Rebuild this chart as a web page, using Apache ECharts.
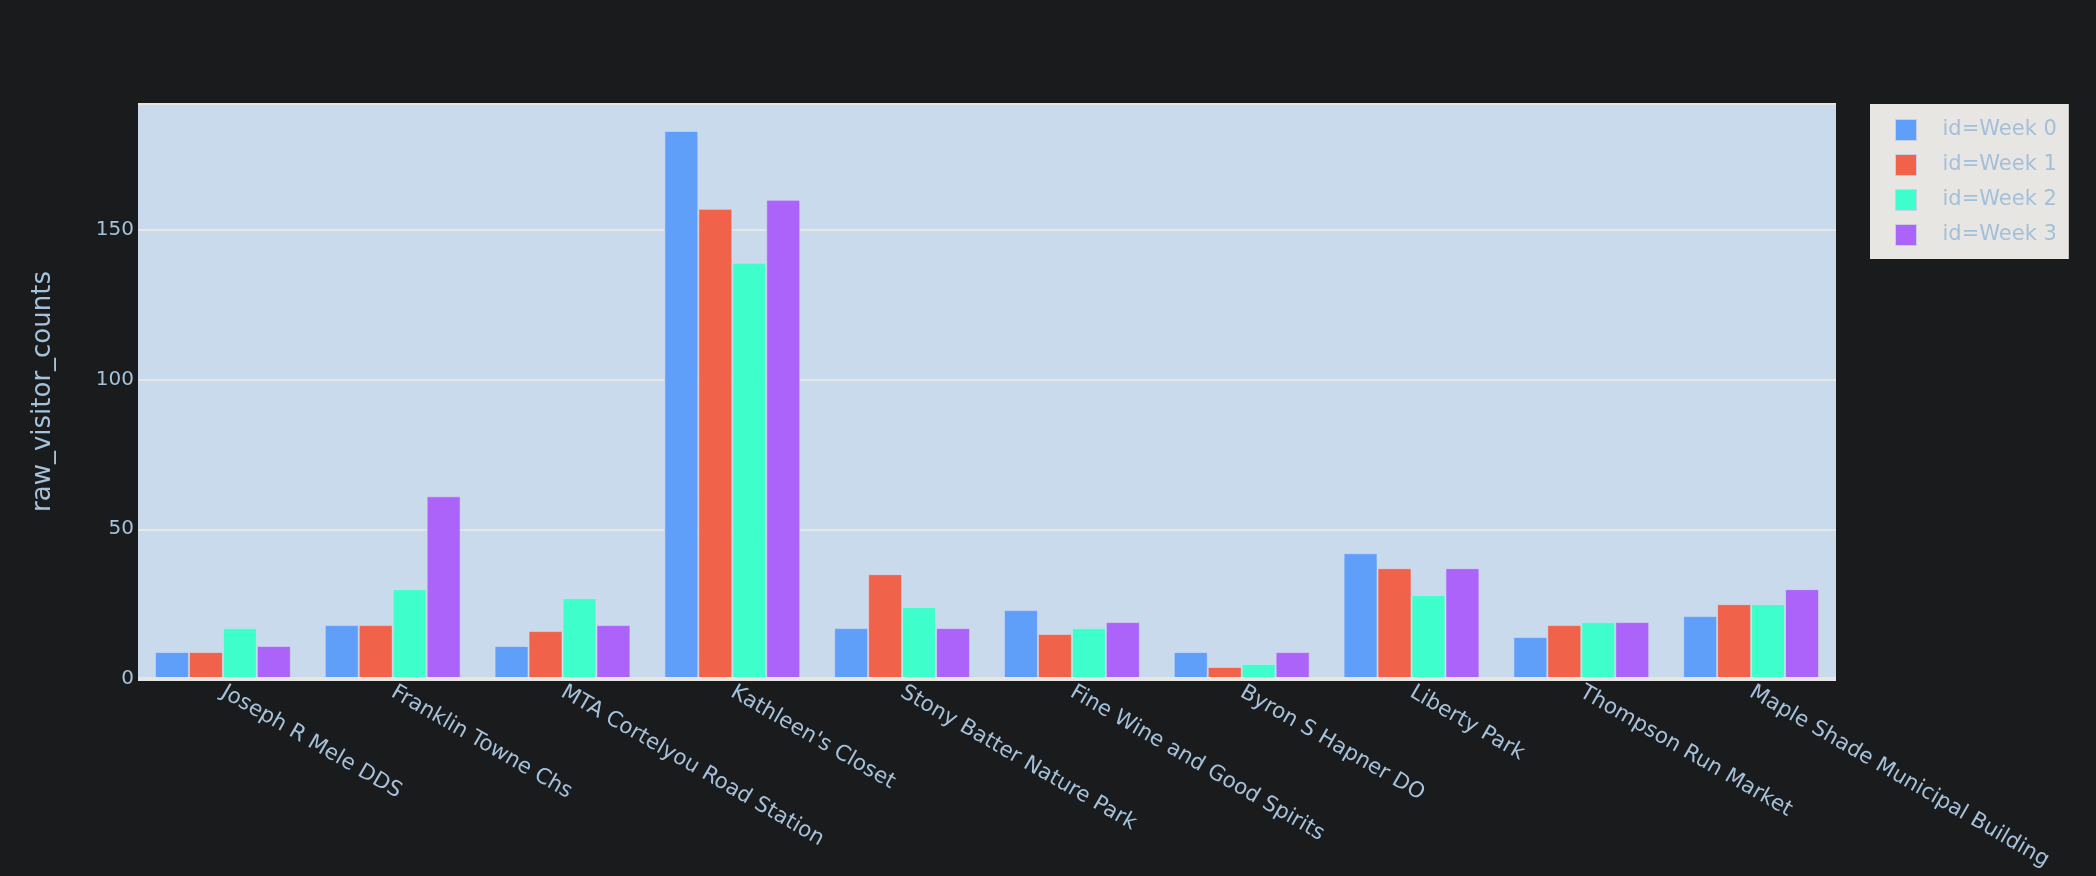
<!DOCTYPE html>
<html>
<head>
<meta charset="utf-8">
<style>
html,body{margin:0;padding:0;background:#191b1d;}
#chart{width:2096px;height:876px;}
</style>
<script src="https://cdn.jsdelivr.net/npm/echarts@6/dist/echarts.min.js"></script>
</head>
<body>
<div id="chart"></div>
<script>
const categories = ["Joseph R Mele DDS","Franklin Towne Chs","MTA Cortelyou Road Station","Kathleen's Closet","Stony Batter Nature Park","Fine Wine and Good Spirits","Byron S Hapner DO","Liberty Park","Thompson Run Market","Maple Shade Municipal Building"];
const seriesNames = ["id=Week 0","id=Week 1","id=Week 2","id=Week 3"];
const week0 = [9, 18, 11, 183, 17, 23, 9, 42, 14, 21];
const week1 = [9, 18, 16, 157, 35, 15, 4, 37, 18, 25];
const week2 = [17, 30, 27, 139, 24, 17, 5, 28, 19, 25];
const week3 = [11, 61, 18, 160, 17, 19, 9, 37, 19, 30];
const yTicks = [0, 50, 100, 150];
const colors = ["#5f9ff9","#f0624a","#3effcc","#ab63fa"];

const seriesData = [week0, week1, week2, week3];
const textColor = "#a6c1da";
const font = "DejaVu Sans";

const chart = echarts.init(document.getElementById('chart'));
chart.setOption({
  backgroundColor: "#191b1d",
  animation: false,
  color: colors,
  textStyle: { fontFamily: font },
  grid: { left: 138, right: 260, top: 104, bottom: 197, backgroundColor: "#c8daeb", show: true, borderWidth: 0 },
  legend: {
    orient: "vertical",
    left: 1870, top: 104,
    backgroundColor: "#e8e6e3",
    padding: [15, 12, 13, 25],
    itemWidth: 21, itemHeight: 21, itemGap: 13,
    icon: "rect",
    itemStyle: { borderColor: "rgba(200,210,230,0.9)", borderWidth: 1 },
    textStyle: { color: "#a3bfd9", fontSize: 21, fontFamily: font, padding: [0, 0, 0, 21] },
    data: seriesNames
  },
  xAxis: {
    type: "category",
    data: categories,
    axisTick: { show: false },
    axisLine: { show: false },
    axisLabel: { rotate: -30, color: textColor, fontSize: 21.5, fontFamily: font, margin: 12, interval: 0 }
  },
  yAxis: {
    type: "value",
    min: 0, max: 192, interval: 50,
    name: "raw_visitor_counts",
    nameLocation: "middle",
    nameGap: 82,
    nameTextStyle: { color: textColor, fontSize: 26, fontFamily: font },
    axisLine: { show: false },
    axisTick: { show: false },
    axisLabel: {
      color: textColor, fontSize: 20, fontFamily: font, margin: 4,
      formatter: function (v) { return yTicks.indexOf(v) >= 0 ? String(v) : ""; }
    },
    splitLine: { show: true, lineStyle: { color: "#e8e6e3", width: 2 } }
  },
  series: seriesNames.map(function (n, i) {
    return {
      name: n,
      type: "bar",
      data: seriesData[i],
      barGap: "0%",
      barCategoryGap: "20%",
      itemStyle: { color: colors[i], borderColor: "rgba(220,225,240,0.55)", borderWidth: 1 },
      markLine: i === 0 ? {
        silent: true, symbol: "none", label: { show: false },
        lineStyle: { color: "#e8e6e3", width: 4, type: "solid" },
        data: [{ yAxis: 0 }]
      } : undefined
    };
  })
});
</script>
</body>
</html>
